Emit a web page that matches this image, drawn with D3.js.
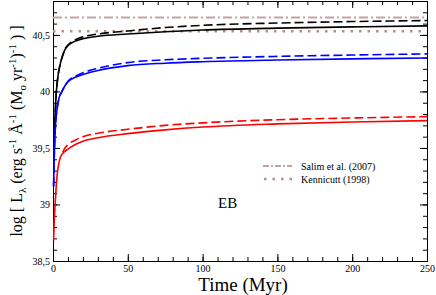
<!DOCTYPE html>
<html>
<head>
<meta charset="utf-8">
<script src="https://cdn.jsdelivr.net/npm/d3@7/dist/d3.min.js"></script>
<style>
  body { margin: 0; background: #fff; }
  svg { display: block; font-family: "Liberation Serif", "DejaVu Serif", serif; }
</style>
</head>
<body>
<svg width="436" height="295"></svg>
<script>
// waarden (tijd in Myr, log L)
var timeRed = [0.4, 0.8, 1.5, 2.2, 3, 4, 5, 6.5, 8, 10, 15, 20, 30, 50, 75, 100, 150, 200, 250];
var redSolid = [38.68, 38.85, 39.02, 39.17, 39.29, 39.37, 39.42, 39.45, 39.47, 39.49, 39.53, 39.56, 39.59, 39.627, 39.66, 39.685, 39.713, 39.73, 39.742];
var timeRedDash = [6.5, 8, 10, 15, 20, 30, 50, 75, 100, 150, 200, 250];
var redDashed = [39.46, 39.5, 39.53, 39.57, 39.6, 39.63, 39.665, 39.7, 39.722, 39.75, 39.765, 39.777];

var timeBlue = [0.4, 0.7, 1, 1.5, 2, 3, 4, 6, 8, 10, 15, 20, 30, 50, 75, 100, 150, 200, 250];
var blueSolid = [39.16, 39.35, 39.5, 39.66, 39.76, 39.87, 39.94, 40.0, 40.05, 40.085, 40.125, 40.15, 40.185, 40.228, 40.25, 40.263, 40.278, 40.288, 40.296];
var blueDashed = [39.16, 39.35, 39.5, 39.66, 39.76, 39.87, 39.94, 40.0, 40.05, 40.09, 40.135, 40.165, 40.205, 40.255, 40.28, 40.293, 40.31, 40.322, 40.332];

var timeBlack = [0.5, 0.8, 1.2, 2, 3, 4, 5, 6.5, 8, 10, 12, 15, 20, 30, 50, 75, 100, 150, 200, 250];
var blackSolid = [39.47, 39.6, 39.72, 39.95, 40.1, 40.19, 40.25, 40.32, 40.37, 40.405, 40.425, 40.445, 40.467, 40.488, 40.508, 40.528, 40.543, 40.56, 40.571, 40.58];
var blackDashed = [39.47, 39.6, 39.72, 39.95, 40.1, 40.19, 40.25, 40.32, 40.375, 40.41, 40.435, 40.458, 40.483, 40.508, 40.535, 40.565, 40.585, 40.605, 40.618, 40.627];

var salim = 40.655;
var kennicutt = 40.533;

var xTicks = [0, 50, 100, 150, 200, 250];
var yTicks = [38.5, 39, 39.5, 40, 40.5];
var legendLabels = ["Salim et al. (2007)", "Kennicutt (1998)"];

var svg = d3.select("svg"),
    margin = { top: 1, right: 9, bottom: 34, left: 53 },
    width = +svg.attr("width") - margin.left - margin.right,
    height = +svg.attr("height") - margin.top - margin.bottom,
    g = svg.append("g").attr("transform", "translate(" + margin.left + "," + margin.top + ")");

var x = d3.scaleLinear().domain([0, 250]).range([0, width]);
var y = d3.scaleLinear().domain([38.5, 40.8]).range([height, 0]);

// assen met ticks naar binnen, kleine ticks elke 10 Myr en 0.1
var fmt = function (d) { return d3.format("")(d).replace(".", ","); };
var minorX = d3.range(0, 251, 10), minorY = d3.range(38.5, 40.81, 0.1);

function styleAxis(sel) {
    sel.select(".domain").attr("stroke", "#000").attr("stroke-width", 1);
    sel.selectAll(".tick line").attr("stroke", "#000");
    sel.selectAll("text").attr("font-family", "Liberation Serif").attr("font-size", 10).attr("fill", "#000");
}

g.append("g").attr("transform", "translate(0," + height + ")")
    .call(d3.axisBottom(x).tickValues(xTicks).tickSizeInner(-7).tickSizeOuter(0).tickPadding(4).tickFormat(d3.format("d")))
    .call(styleAxis);
g.append("g").attr("transform", "translate(0," + height + ")")
    .call(d3.axisBottom(x).tickValues(minorX).tickSizeInner(-4).tickSizeOuter(0).tickFormat(""))
    .call(styleAxis);
g.append("g")
    .call(d3.axisTop(x).tickValues(xTicks).tickSizeInner(-7).tickSizeOuter(0).tickFormat(""))
    .call(styleAxis);
g.append("g")
    .call(d3.axisTop(x).tickValues(minorX).tickSizeInner(-4).tickSizeOuter(0).tickFormat(""))
    .call(styleAxis);

g.append("g")
    .call(d3.axisLeft(y).tickValues(yTicks).tickSizeInner(-7).tickSizeOuter(0).tickPadding(3).tickFormat(fmt))
    .call(styleAxis);
g.append("g")
    .call(d3.axisLeft(y).tickValues(minorY).tickSizeInner(-4).tickSizeOuter(0).tickFormat(""))
    .call(styleAxis);
g.append("g").attr("transform", "translate(" + width + ",0)")
    .call(d3.axisRight(y).tickValues(yTicks).tickSizeInner(-7).tickSizeOuter(0).tickFormat(""))
    .call(styleAxis);
g.append("g").attr("transform", "translate(" + width + ",0)")
    .call(d3.axisRight(y).tickValues(minorY).tickSizeInner(-4).tickSizeOuter(0).tickFormat(""))
    .call(styleAxis);

// referentielijnen
var refColor = "#c4a3a3";
g.append("line")
    .attr("x1", x(0)).attr("x2", x(250)).attr("y1", y(salim)).attr("y2", y(salim))
    .attr("stroke", refColor).attr("stroke-width", 2).attr("stroke-dasharray", "9,3,2,3");
g.append("line")
    .attr("x1", x(0)).attr("x2", x(250)).attr("y1", y(kennicutt)).attr("y2", y(kennicutt))
    .attr("stroke", "#b88c8c").attr("stroke-width", 2.5).attr("stroke-dasharray", "2.5,6");

// curves
var line = d3.line()
    .x(function (d) { return x(d[0]); })
    .y(function (d) { return y(d[1]); })
    .curve(d3.curveMonotoneX);

var curves = [
    { t: timeBlack, v: blackSolid, c: "#000", dash: null },
    { t: timeBlack, v: blackDashed, c: "#000", dash: "9,4" },
    { t: timeBlue, v: blueSolid, c: "#0000ff", dash: null },
    { t: timeBlue, v: blueDashed, c: "#0000ff", dash: "9,4" },
    { t: timeRed, v: redSolid, c: "#ff0000", dash: null },
    { t: timeRedDash, v: redDashed, c: "#ff0000", dash: "9,4" }
];

g.selectAll("path.curve")
    .data(curves)
    .enter().append("path")
    .attr("class", "curve")
    .attr("fill", "none")
    .attr("stroke", function (d) { return d.c; })
    .attr("stroke-width", 1.6)
    .attr("stroke-dasharray", function (d) { return d.dash; })
    .attr("d", function (d) { return line(d.t.map(function (t, i) { return [t, d.v[i]]; })); });

// legenda
var legend = g.append("g").attr("transform", "translate(210,165)");
legend.append("line").attr("x1", 0).attr("x2", 29).attr("y1", 0).attr("y2", 0)
    .attr("stroke", refColor).attr("stroke-width", 2).attr("stroke-dasharray", "6,2,2,2");
legend.append("line").attr("x1", 1).attr("x2", 29).attr("y1", 13).attr("y2", 13)
    .attr("stroke", "#b88c8c").attr("stroke-width", 2.5).attr("stroke-dasharray", "2.5,6");
legend.selectAll("text")
    .data(legendLabels)
    .enter().append("text")
    .attr("x", 38)
    .attr("y", function (d, i) { return i * 13 + 3.5; })
    .attr("font-size", 10)
    .text(function (d) { return d; });

g.append("text").attr("x", 165).attr("y", 207).attr("font-size", 15).text("EB");

// as-titels
svg.append("text")
    .attr("x", margin.left + width / 2 + 3).attr("y", 291)
    .attr("text-anchor", "middle").attr("font-size", 19)
    .text("Time (Myr)");

var yt = svg.append("text")
    .attr("transform", "translate(22," + (margin.top + height / 2) + ") rotate(-90)")
    .attr("text-anchor", "middle").attr("font-size", 16);
yt.append("tspan").text("log [ L");
yt.append("tspan").attr("dy", 4).attr("font-size", 11).text("λ");
yt.append("tspan").attr("dy", -4).text(" (erg s");
yt.append("tspan").attr("dy", -6).attr("font-size", 11).text("-1");
yt.append("tspan").attr("dy", 6).text(" Å");
yt.append("tspan").attr("dy", -6).attr("font-size", 11).text("-1");
yt.append("tspan").attr("dy", 6).text(" (M");
yt.append("tspan").attr("dy", 4).attr("font-size", 11).text("o");
yt.append("tspan").attr("dy", -4).text(" yr");
yt.append("tspan").attr("dy", -6).attr("font-size", 11).text("-1");
yt.append("tspan").attr("dy", 6).text(")");
yt.append("tspan").attr("dy", -6).attr("font-size", 11).text("-1");
yt.append("tspan").attr("dy", 6).text(" ) ]");
</script>
</body>
</html>
